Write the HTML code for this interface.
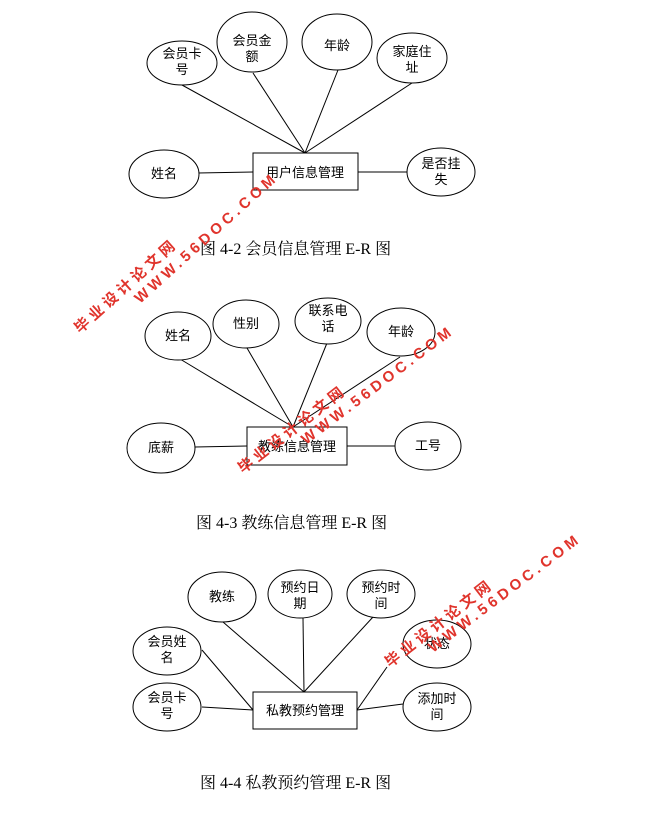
<!DOCTYPE html>
<html><head><meta charset="utf-8"><style>
html,body{margin:0;padding:0;background:#fff;}
svg{display:block;}
.t{font-family:"Liberation Sans","Noto Sans CJK SC",sans-serif;font-size:13px;fill:#000;text-anchor:middle;}
.c{font-family:"Liberation Serif","Noto Serif CJK SC",serif;font-size:16px;fill:#000;}
.w{font-family:"Liberation Sans","Noto Sans CJK SC",sans-serif;font-size:15px;font-weight:bold;fill:#e0342c;letter-spacing:4px;}
ellipse,rect{fill:#fff;stroke:#000;stroke-width:1;}
line{stroke:#000;stroke-width:1;}
</style></head><body>
<svg width="653" height="828" viewBox="0 0 653 828" xmlns="http://www.w3.org/2000/svg">
<line x1="182" y1="85" x2="305" y2="153"/>
<line x1="253" y1="73" x2="305" y2="153"/>
<line x1="338" y1="70" x2="305" y2="153"/>
<line x1="412" y1="83" x2="305" y2="153"/>
<line x1="198" y1="173" x2="253" y2="172"/>
<line x1="358" y1="172" x2="407" y2="172"/>
<ellipse cx="182" cy="63" rx="35" ry="22"/>
<ellipse cx="252" cy="42" rx="35" ry="30"/>
<ellipse cx="337" cy="42" rx="35" ry="28"/>
<ellipse cx="412" cy="58" rx="35" ry="25"/>
<ellipse cx="164" cy="174" rx="35" ry="24"/>
<ellipse cx="441" cy="172" rx="34" ry="24"/>
<rect x="253" y="153" width="105" height="37"/>
<text class="t" x="182" y="58">会员卡</text><text class="t" x="182" y="74">号</text>
<text class="t" x="252" y="45">会员金</text><text class="t" x="252" y="61">额</text>
<text class="t" x="337" y="50">年龄</text>
<text class="t" x="412" y="56">家庭住</text><text class="t" x="412" y="72">址</text>
<text class="t" x="164" y="178">姓名</text>
<text class="t" x="441" y="168">是否挂</text><text class="t" x="441" y="184">失</text>
<text class="t" x="305" y="177">用户信息管理</text>
<text class="c" x="200" y="254">图 4-2  会员信息管理 E-R 图</text>

<line x1="180" y1="359" x2="293" y2="427"/>
<line x1="247" y1="348" x2="293" y2="427"/>
<line x1="327" y1="343" x2="293" y2="427"/>
<line x1="400" y1="357" x2="293" y2="427"/>
<line x1="195" y1="447" x2="247" y2="446"/>
<line x1="347" y1="446" x2="395" y2="446"/>
<ellipse cx="178" cy="336" rx="33" ry="24"/>
<ellipse cx="246" cy="324" rx="33" ry="24"/>
<ellipse cx="328" cy="321" rx="33" ry="23"/>
<ellipse cx="401" cy="332" rx="34" ry="24"/>
<ellipse cx="161" cy="448" rx="34" ry="25"/>
<ellipse cx="428" cy="446" rx="33" ry="24"/>
<rect x="247" y="427" width="100" height="38"/>
<text class="t" x="178" y="340">姓名</text>
<text class="t" x="246" y="328">性别</text>
<text class="t" x="328" y="315">联系电</text><text class="t" x="328" y="331">话</text>
<text class="t" x="401" y="336">年龄</text>
<text class="t" x="161" y="452">底薪</text>
<text class="t" x="428" y="450">工号</text>
<text class="t" x="297" y="451">教练信息管理</text>
<text class="c" x="196" y="528">图 4-3  教练信息管理 E-R 图</text>

<line x1="223" y1="622" x2="304" y2="692"/>
<line x1="303" y1="618" x2="304" y2="692"/>
<line x1="373" y1="617" x2="304" y2="692"/>
<line x1="202" y1="650" x2="253" y2="710"/>
<line x1="202" y1="707" x2="253" y2="710"/>
<line x1="387" y1="667" x2="357" y2="710"/>
<line x1="403" y1="704" x2="357" y2="710"/>
<ellipse cx="222" cy="597" rx="34" ry="25"/>
<ellipse cx="300" cy="594" rx="32" ry="24"/>
<ellipse cx="381" cy="594" rx="34" ry="24"/>
<ellipse cx="167" cy="651" rx="34" ry="24"/>
<ellipse cx="437" cy="644" rx="34" ry="24"/>
<ellipse cx="167" cy="707" rx="34" ry="24"/>
<ellipse cx="437" cy="707" rx="34" ry="24"/>
<rect x="253" y="692" width="104" height="37"/>
<text class="t" x="222" y="601">教练</text>
<text class="t" x="300" y="592">预约日</text><text class="t" x="300" y="608">期</text>
<text class="t" x="381" y="592">预约时</text><text class="t" x="381" y="608">间</text>
<text class="t" x="167" y="646">会员姓</text><text class="t" x="167" y="662">名</text>
<text class="t" x="437" y="648">状态</text>
<text class="t" x="167" y="702">会员卡</text><text class="t" x="167" y="718">号</text>
<text class="t" x="437" y="703">添加时</text><text class="t" x="437" y="719">间</text>
<text class="t" x="305" y="715">私教预约管理</text>
<text class="c" x="200" y="788">图 4-4  私教预约管理 E-R 图</text>

<text class="w" transform="translate(80,334) rotate(-42)">毕业设计论文网</text>
<text class="w" transform="translate(140,304) rotate(-42)">WWW.56DOC.COM</text>
<text class="w" transform="translate(243,474) rotate(-38)">毕业设计论文网</text>
<text class="w" transform="translate(306,445) rotate(-37)">WWW.56DOC.COM</text>
<text class="w" transform="translate(390,668) rotate(-38)">毕业设计论文网</text>
<text class="w" transform="translate(433,653) rotate(-37)">WWW.56DOC.COM</text>
</svg>
</body></html>
